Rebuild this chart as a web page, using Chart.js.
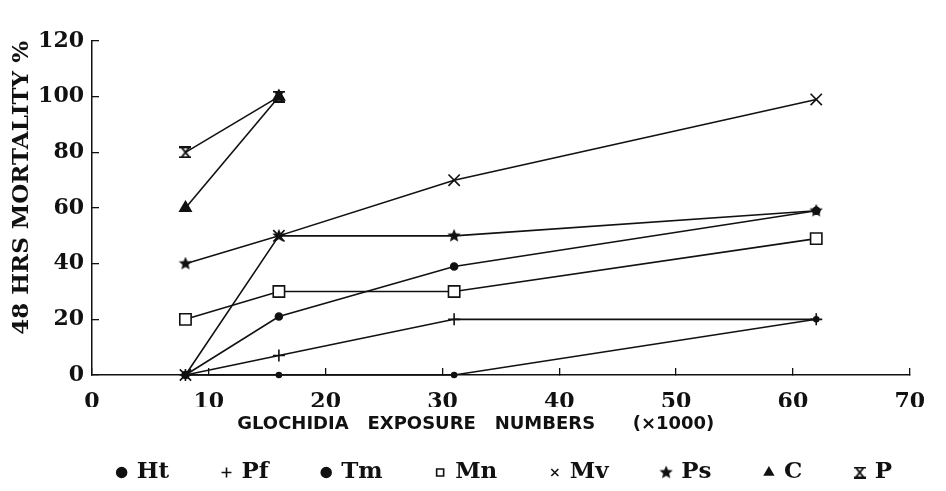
<!DOCTYPE html>
<html>
<head>
<meta charset="utf-8">
<script src="https://cdn.jsdelivr.net/npm/chart.js@4.4.0/dist/chart.umd.min.js"></script>
<style>
  html, body { margin: 0; padding: 0; background: #fff; }
  #wrap { width: 946px; height: 491px; }
</style>
</head>
<body>
<div id="wrap"><canvas id="mortalityChart"></canvas></div>
<script>
// ================= DATA =================
// glochidia exposure numbers (x1000)
const exposure = [8, 16, 31, 62];

// 48 hrs mortality % for each fish
const htVals = [0, 0, 0, 20];
const pfVals = [0, 7, 20, 20];
const tmVals = [0, 21, 39, 59];
const mnVals = [20, 30, 30, 49];
const mvVals = [0, 50, 70, 99];
const psVals = [40, 50, 50, 59];
const cVals  = [60, 100, null, null];
const pVals  = [80, 100, null, null];

const xTicks = [0, 10, 20, 30, 40, 50, 60, 70];
const yTicks = [0, 20, 40, 60, 80, 100, 120];

const INK = '#111';

// ================= MARKERS =================
function makeStar(size) {
    const c = document.createElement('canvas');
    c.width = c.height = size;
    const g = c.getContext('2d');
    const r = size / 2, ri = r * 0.45;
    g.beginPath();
    for (let i = 0; i < 10; i++) {
        const a = -Math.PI / 2 + i * Math.PI / 5;
        const rr = i % 2 ? ri : r;
        g.lineTo(r + rr * Math.cos(a), r + rr * Math.sin(a));
    }
    g.closePath();
    g.fillStyle = INK;
    g.fill();
    return c;
}

// "x" with a bar on top and bottom
function makeBarCross(size) {
    const c = document.createElement('canvas');
    c.width = c.height = size;
    const g = c.getContext('2d');
    g.strokeStyle = INK;
    g.lineWidth = 2;
    g.beginPath();
    g.moveTo(2, 1); g.lineTo(size - 2, size - 1);
    g.moveTo(size - 2, 1); g.lineTo(2, size - 1);
    g.moveTo(0, 1); g.lineTo(size, 1);
    g.moveTo(0, size - 1); g.lineTo(size, size - 1);
    g.stroke();
    return c;
}

function series(label, vals, style, radius, fill) {
    return {
        label: label,
        data: exposure.map((x, i) => ({ x: x, y: vals[i] })),
        borderColor: INK,
        borderWidth: 1.6,
        backgroundColor: fill,
        pointStyle: style,
        pointRadius: radius,
        pointBackgroundColor: fill,
        pointBorderColor: INK,
        pointBorderWidth: 1.6,
        tension: 0,
        clip: false
    };
}

const tickFont = { family: 'DejaVu Serif', weight: 'bold', size: 22 };
const legendFont = { family: 'DejaVu Serif', weight: 'bold', size: 23 };

// ================= CHART =================
const ctx = document.getElementById('mortalityChart').getContext('2d');
new Chart(ctx, {
    type: 'line',
    data: {
        datasets: [
            series('Ht', htVals, 'circle', 2.5, INK),
            series('Pf', pfVals, 'cross', 6, INK),
            series('Tm', tmVals, 'circle', 3.5, INK),
            series('Mn', mnVals, 'rect', 8, '#fff'),
            series('Mv', mvVals, 'crossRot', 8, INK),
            series('Ps', psVals, makeStar(14), 7, INK),
            series('C', cVals, 'triangle', 6.5, INK),
            series('P', pVals, makeBarCross(12), 6, INK)
        ]
    },
    options: {
        responsive: true,
        maintainAspectRatio: false,
        animation: false,
        layout: { padding: { left: 0, right: 0, top: 41, bottom: -3 } },
        plugins: {
            tooltip: { enabled: false },
            legend: {
                position: 'bottom',
                align: 'end',
                labels: {
                    usePointStyle: true,
                    boxWidth: 7,
                    boxHeight: 7,
                    padding: 54,
                    color: INK,
                    font: legendFont
                }
            }
        },
        scales: {
            x: {
                type: 'linear',
                min: 0,
                max: 70,
                afterBuildTicks: (s) => { s.ticks = xTicks.map(v => ({ value: v })); },
                afterFit: (s) => { s.height = 32; },
                grid: { drawOnChartArea: false, tickLength: -7, color: INK, lineWidth: 1.3 },
                border: { color: INK, width: 1.5 },
                ticks: { padding: 21, maxRotation: 0, color: INK, font: tickFont },
                title: {
                    display: true,
                    text: 'GLOCHIDIA   EXPOSURE   NUMBERS      (×1000)        ',
                    color: INK,
                    font: { family: 'DejaVu Sans', weight: 'bold', size: 18 },
                    padding: { top: 0, bottom: -28 }
                }
            },
            y: {
                min: 0,
                max: 120,
                afterBuildTicks: (s) => { s.ticks = yTicks.map(v => ({ value: v })); },
                afterFit: (s) => { s.width = 92; },
                grid: { drawOnChartArea: false, tickLength: -7, color: INK, lineWidth: 1.3 },
                border: { color: INK, width: 1.5 },
                ticks: { padding: 15, color: INK, font: tickFont },
                title: {
                    display: true,
                    text: '48 HRS MORTALITY %',
                    align: 'end',
                    color: INK,
                    font: { family: 'DejaVu Serif', weight: 'bold', size: 23 },
                    padding: { top: 8, bottom: 0 }
                }
            }
        }
    }
});
</script>
</body>
</html>
